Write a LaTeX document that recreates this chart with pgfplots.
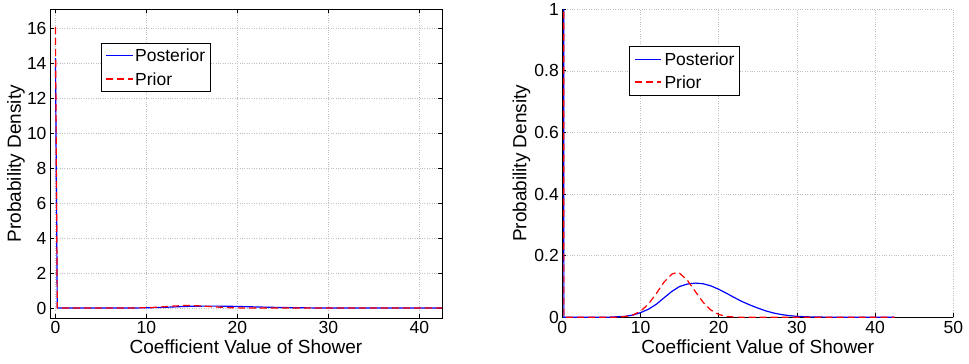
\documentclass[border=0pt]{standalone}
\usepackage{fontspec}
\setmainfont{Liberation Sans}
\usepackage{pgfplots}
\usepackage{pgfplotstable}
\pgfplotsset{compat=1.18}
\pgfplotstableread{
x y
0 14.3
0.2 0
2 0
6 0.0005
8 0.003
9 0.007
10 0.015
11 0.026
12 0.042
13 0.063
14 0.084
15 0.100
16 0.108
17 0.111
18 0.109
19 0.102
20 0.091
21 0.078
22 0.064
23 0.051
24 0.040
25 0.030
26 0.021
27 0.014
28 0.009
29 0.0055
30 0.003
32 0.001
35 0.0002
40 0
42.5 0
}\post
\pgfplotstableread{
x y
0 16.1
0.2 0
2 0
7 0.0005
8 0.0024
9 0.0075
10 0.0196
11 0.0426
12 0.0765
13 0.114
14 0.140
14.6 0.145
15 0.143
16 0.120
17 0.084
18 0.049
19 0.0233
20 0.0092
21 0.003
22 0.0008
24 0
42.5 0
}\prior
\pgfplotsset{
  mystyle/.style={
    scale only axis,
    font=\fontsize{17.5}{21}\selectfont,
    /pgf/number format/assume math mode=true,
    tick align=inside,
    major tick length=4pt,
    grid=major,
    major grid style={dotted, gray!50, line width=0.5pt},
    axis line style={line width=0.8pt},
    tick style={black, line width=0.8pt},
    xlabel={Coefficient Value of Shower},
    ylabel={Probability Density},
    label style={font=\fontsize{19}{22}\selectfont},
  },
  poststyle/.style={forget plot, color=blue, solid, line width=1.2pt, line join=round},
  priorstyle/.style={forget plot, color=red, line width=1.2pt, line join=round, dash pattern=on 7pt off 4pt},
}
\begin{document}
\begin{tikzpicture}
\path[use as bounding box] (0,0) rectangle (969pt,364pt);
\begin{axis}[mystyle,
  at={(50pt,46pt)}, anchor=south west,
  width=392pt, height=308.7pt,
  xmin=-0.6, xmax=42.5, ymin=-0.57, ymax=17.1,
  xtick={0,10,20,30,40}, ytick={0,2,4,6,8,10,12,14,16},
  xlabel style={at={(axis description cs:0.5,-0.1166)}, anchor=base},
  ylabel style={at={(axis description cs:-0.074,0.5)}, anchor=base},
]
\addplot[poststyle] table[x=x,y=y] {\post};
\addplot[priorstyle] table[x=x,y=y] {\prior};
% legend
\node[draw=black, fill=white, line width=0.9pt, anchor=north west, inner sep=0pt,
  minimum width=109.3pt, minimum height=48pt] at (axis description cs:0.129,0.892) {};
\addplot[poststyle] coordinates {(5.56,14.44) (8.53,14.44)};
\addplot[priorstyle] coordinates {(5.56,13.11) (8.53,13.11)};
\node[anchor=base west, inner sep=0pt] at (axis description cs:0.2168,0.8293) {Posterior};
\node[anchor=base west, inner sep=0pt] at (axis description cs:0.2168,0.7538) {Prior};
\end{axis}
\begin{axis}[mystyle,
  at={(562.3pt,46.7pt)}, anchor=south west,
  width=391pt, height=308pt,
  axis lines*=left,
  xmin=0, xmax=50, ymin=0, ymax=1,
  xtick={0,10,20,30,40,50}, ytick={0,0.2,0.4,0.6,0.8,1},
  xlabel style={at={(axis description cs:0.5,-0.119)}, anchor=base},
  ylabel style={at={(axis description cs:-0.092,0.5)}, anchor=base},
]
\addplot[poststyle] table[x=x,y=y] {\post};
\addplot[priorstyle] table[x=x,y=y] {\prior};
% legend
\node[draw=black, fill=white, line width=0.9pt, anchor=north west, inner sep=0pt,
  minimum width=109.7pt, minimum height=49pt] at (axis description cs:0.1714,0.8818) {};
\addplot[poststyle] coordinates {(9.30,0.8377) (12.62,0.8377)};
\addplot[priorstyle] coordinates {(9.30,0.7640) (12.62,0.7640)};
\node[anchor=base west, inner sep=0pt] at (axis description cs:0.2609,0.8169) {Posterior};
\node[anchor=base west, inner sep=0pt] at (axis description cs:0.2609,0.7435) {Prior};
\end{axis}
\end{tikzpicture}
\end{document}
